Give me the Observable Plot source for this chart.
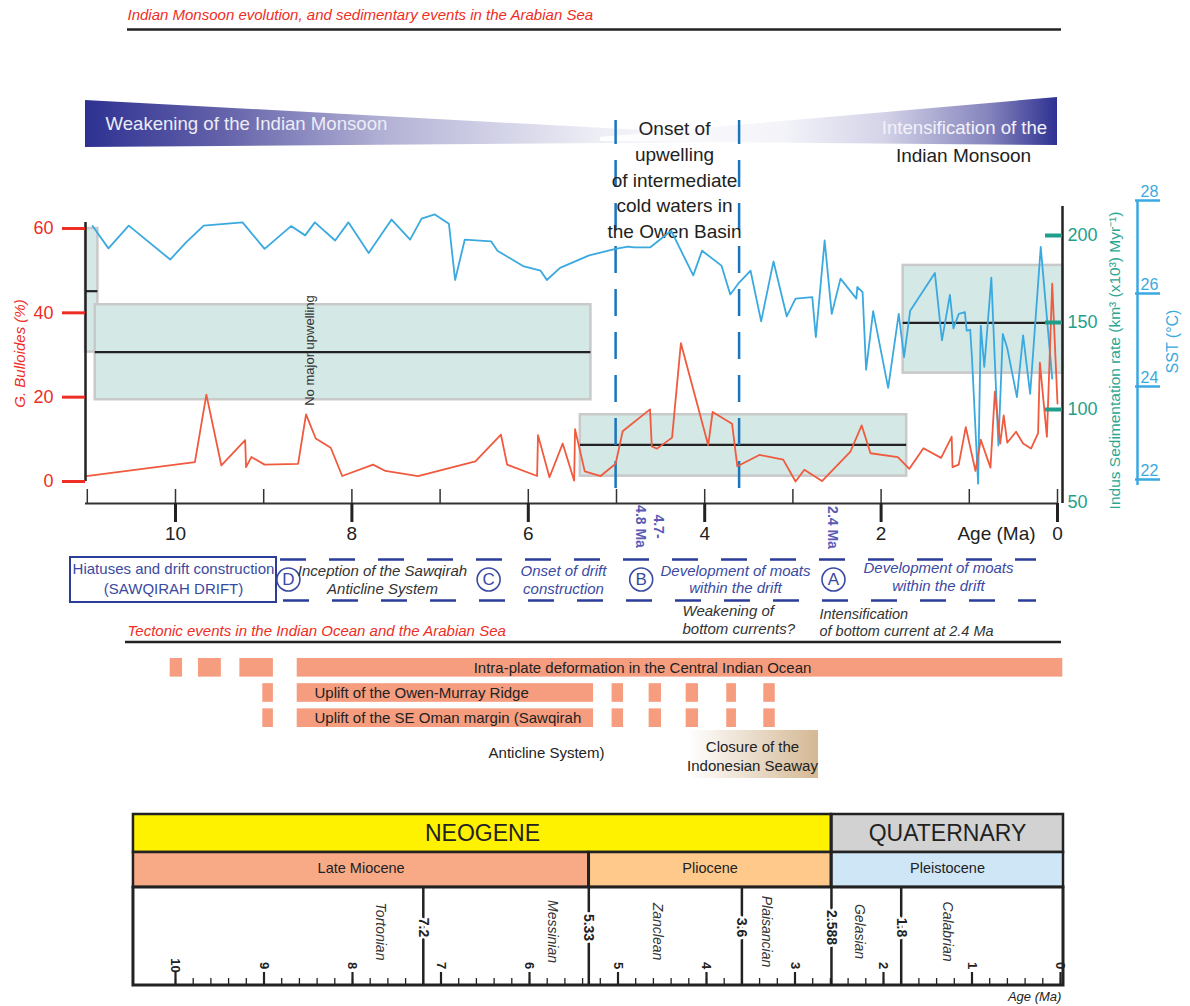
<!DOCTYPE html>
<html>
<head>
<meta charset="utf-8">
<script src="https://cdn.jsdelivr.net/npm/d3@7"></script>
<script src="https://cdn.jsdelivr.net/npm/@observablehq/plot@0.6"></script>
<style>
html,body{margin:0;padding:0;background:#fff;}
#wrap{position:relative;width:1190px;height:1006px;overflow:hidden;background:#fff;}
#wrap svg{position:absolute;left:0;}
</style>
</head>
<body>
<div id="wrap"></div>
<script>
// ---------------- DATA ----------------
const sstAges = [10.94,10.76,10.53,10.06,9.88,9.68,9.24,8.99,8.69,8.53,8.42,8.19,8.04,7.81,7.55,7.34,7.21,7.06,6.90,6.83,6.72,6.42,6.35,6.06,5.86,5.79,5.64,5.31,5.01,4.87,4.80,4.62,4.38,4.13,4.03,3.81,3.71,3.62,3.48,3.36,3.22,3.07,2.97,2.78,2.74,2.64,2.56,2.46,2.28,2.27,2.21,2.17,2.09,1.92,1.80,1.74,1.67,1.39,1.31,1.22,1.18,1.12,1.05,1.03,0.99,0.97,0.90,0.87,0.83,0.75,0.67,0.62,0.57,0.46,0.39,0.31,0.19,0.06];
const sstValues = [27.45,26.97,27.46,26.73,27.10,27.46,27.53,26.96,27.45,27.25,27.53,27.14,27.53,26.87,27.59,27.16,27.61,27.70,27.50,26.29,27.16,27.12,26.92,26.59,26.49,26.29,26.55,26.82,26.96,27.01,26.99,26.99,27.35,26.39,26.92,26.60,25.98,26.21,26.49,25.40,26.69,25.51,25.89,25.92,25.06,27.14,25.56,26.32,25.89,26.14,26.03,24.36,25.62,23.97,25.56,24.63,25.63,26.44,24.99,25.97,25.25,25.56,25.60,25.20,25.22,24.63,21.91,25.31,24.42,26.34,22.73,25.13,24.83,23.77,25.10,23.84,27.00,24.17];

const bulloidesAges = [11.01,9.78,9.65,9.48,9.21,9.20,9.14,8.99,8.61,8.52,8.41,8.24,8.11,7.76,7.62,7.25,6.60,6.31,6.24,5.90,5.89,5.76,5.61,5.48,5.47,5.36,5.18,5.01,4.93,4.62,4.60,4.54,4.37,4.27,3.96,3.91,3.69,3.63,3.38,3.11,2.97,2.87,2.67,2.35,2.22,2.12,1.81,1.68,1.52,1.32,1.20,1.19,1.12,1.04,0.93,0.87,0.76,0.71,0.65,0.61,0.57,0.47,0.39,0.30,0.22,0.20,0.12,0.06,0.00];
const bulloidesValues = [1.3,4.6,20.6,3.8,9.8,3.4,5.8,4.0,4.2,15.9,10.2,8.0,1.3,4.0,2.5,1.3,4.8,11.1,4.0,1.3,11.0,1.0,9.0,0.2,12.4,2.4,1.3,4.2,11.9,17.1,8.3,7.8,10.4,32.8,8.6,16.5,13.7,3.6,6.3,5.2,0.0,2.8,0.1,7.0,13.3,6.7,5.8,3.0,7.9,5.6,10.6,3.4,4.0,12.9,2.5,9.9,3.3,21.3,9.0,15.7,9.2,11.8,9.0,7.8,11.5,28.2,10.6,46.9,18.5];

// Indus sedimentation rate boxes (age span, range, mean)
const sedFrom = [11.02, 10.91, 5.41, 1.75];
const sedTo   = [10.88, 5.29, 1.71, -0.06];
const sedLow  = [133, 105.6, 61.7, 120.9];
const sedHigh = [204, 160.2, 97, 182.8];
const sedMean = [168, 133, 79.7, 149.8];

const upwellingAges = [5.01, 3.61];

const percentTicks = [0, 20, 40, 60];
const sedTicks = [200, 150, 100];
const sedTickLabels = [200, 150, 100, 50];
const sstTicks = [22, 24, 26, 28];
const ageMinorTicks = [11, 10, 9, 8, 7, 6, 5, 4, 3, 2, 1, 0];
const ageMajorTicks = [10, 8, 6, 4, 2, 0];

// sedimentary events
const eventLetters = ["D", "C", "B", "A"];
const eventAges = [8.72, 6.45, 4.72, 2.54];

// tectonic events
const tectRows = ["Intra-plate deformation", "Owen-Murray Ridge uplift", "SE Oman margin uplift"];
const intraFrom = [10.06, 9.74, 9.27, 8.62];
const intraTo   = [9.92, 9.48, 8.89, -0.06];
const upliftFrom = [9.01, 8.62, 5.05, 4.63, 4.21, 3.75, 3.33];
const upliftTo   = [8.89, 5.26, 4.92, 4.49, 4.07, 3.64, 3.20];
const closureFrom = 4.18, closureTo = 2.71;

// geological time scale
const periodNames = ["NEOGENE", "QUATERNARY"];
const periodFrom = [10.475, 2.588];
const periodTo = [2.588, -0.034];
const epochNames = ["Late Miocene", "Pliocene", "Pleistocene"];
const epochFrom = [10.475, 5.33, 2.588];
const epochTo = [5.33, 2.588, -0.034];
const stageNames = ["Tortonian", "Messinian", "Zanclean", "Plaisancian", "Gelasian", "Calabrian"];
const stageLabelAges = [7.68, 5.74, 4.55, 3.32, 2.27, 1.28];
const stageBoundaries = [7.2, 5.33, 3.6, 2.588, 1.8];
const stageBoundaryLabels = ["7.2", "5.33", "3.6", "2.588", "1.8"];
const scaleIntegerTicks = [10, 9, 8, 7, 6, 5, 4, 3, 2, 1, 0];

// ---------------- TABLES ----------------
const sst = sstAges.map((a, i) => ({age: a, sst: sstValues[i]}));
const bull = bulloidesAges.map((a, i) => ({age: a, pct: bulloidesValues[i]}));
const sedBoxes = sedFrom.map((f, i) => ({from: f, to: sedTo[i], low: sedLow[i], high: sedHigh[i], mean: sedMean[i]}));
const tectSegs = [
  ...intraFrom.map((f, i) => ({row: tectRows[0], from: f, to: intraTo[i]})),
  ...upliftFrom.map((f, i) => ({row: tectRows[1], from: f, to: upliftTo[i]})),
  ...upliftFrom.map((f, i) => ({row: tectRows[2], from: f, to: upliftTo[i]}))
];
const periods = periodNames.map((n, i) => ({name: n, from: periodFrom[i], to: periodTo[i]}));
const epochs = epochNames.map((n, i) => ({name: n, from: epochFrom[i], to: epochTo[i]}));
const stages = stageNames.map((n, i) => ({name: n, at: stageLabelAges[i]}));
const boundaries = stageBoundaries.map((b, i) => ({age: b, label: stageBoundaryLabels[i]}));

// ---------------- LAYOUT HELPERS ----------------
const F = '"Liberation Sans", Arial, Helvetica, sans-serif';
const xs = d3.scaleLinear([10, 0], [175, 1057]);
const ys = d3.scaleLinear([0, 60], [481, 228]);
const X = p => xs.invert(p), Y = p => ys.invert(p);
const sst2pct = d3.scaleLinear([22, 28], [Y(479), Y(200)]);
const sed2pct = d3.scaleLinear([50, 200], [Y(496), Y(235)]);

const RED = "#ee2d24", BLUE = "#3aa9e0", TEAL = "#1f9f8b", NAVY = "#2e3192", EVT = "#3a4aa2";

function label(text, px, py, o = {}) {
  return Plot.text([text], {x: () => X(px), y: () => Y(py), text: d => d, fontSize: 15, fill: "#222", ...o});
}
function hline(py, px1, px2, o = {}) {
  return Plot.ruleY([0], {y: () => Y(py), x1: () => X(px1), x2: () => X(px2), ...o});
}
function vline(px, py1, py2, o = {}) {
  return Plot.ruleX([0], {x: () => X(px), y1: () => Y(py1), y2: () => Y(py2), ...o});
}

const wedgeLeft = [{age: X(85), lo: Y(147), hi: Y(100)}, {age: X(790), lo: Y(141.5), hi: Y(138)}];
const wedgeRight = [{age: X(600), lo: Y(141), hi: Y(137)}, {age: X(1057), lo: Y(145), hi: Y(97)}];

// ---------------- MAIN CHART ----------------
const main = Plot.plot({
  width: 1190, height: 645, margin: 0,
  style: {fontFamily: F, background: "transparent", overflow: "visible"},
  x: {domain: [10, 0], range: [175, 1057], axis: null},
  y: {domain: [0, 60], range: [481, 228], axis: null},
  marks: [
    // title
    label("Indian Monsoon evolution, and sedimentary events in the Arabian Sea", 127, 15, {textAnchor: "start", fill: RED, fontStyle: "italic", fontSize: 15}),
    hline(29, 127, 1061, {stroke: "#222", strokeWidth: 2.5}),
    // monsoon wedges
    Plot.area(wedgeLeft, {x1: "age", y1: "lo", y2: "hi", fill: "url(#gradL)"}),
    Plot.area(wedgeRight, {x1: "age", y1: "lo", y2: "hi", fill: "url(#gradR)"}),
    label("Weakening of the Indian Monsoon", 105, 124, {textAnchor: "start", fill: "#ececf6", fontSize: 18.6}),
    label("Intensification of the", 964, 128, {fill: "#f2f2f8", fontSize: 18.6}),
    label("Indian Monsoon", 963, 155, {fill: "#222", fontSize: 19}),
    // sedimentation rate boxes
    Plot.rect(sedBoxes, {x1: "from", x2: "to", y1: d => sed2pct(d.low), y2: d => sed2pct(d.high), fill: "#d4e8e6", stroke: "#c9c9c9", strokeWidth: 2.5}),
    Plot.ruleY(sedBoxes, {y: d => sed2pct(d.mean), x1: "from", x2: "to", stroke: "#222", strokeWidth: 2.2}),
    // upwelling dashed lines
    Plot.ruleX(upwellingAges, {x: d => d, y1: () => Y(488), y2: () => Y(120), stroke: "#1b75bc", strokeWidth: 2.5, strokeDasharray: "27,16"}),
    label("Onset of\nupwelling\nof intermediate\ncold waters in\nthe Owen Basin", 674, 178, {fontSize: 19, lineHeight: 1.35, fill: "#222"}),
    label("No major upwelling", 309, 350, {rotate: -90, fontSize: 13, fill: "#333"}),
    // data lines
    Plot.line(sst, {x: "age", y: d => sst2pct(d.sst), stroke: BLUE, strokeWidth: 1.8}),
    Plot.line(bull, {x: "age", y: "pct", stroke: "#f05a3e", strokeWidth: 1.8}),
    // left axis
    vline(85, 481, 222, {stroke: "#222", strokeWidth: 2.5}),
    Plot.ruleY(percentTicks, {y: d => d, x1: () => X(62), x2: () => X(85), stroke: RED, strokeWidth: 3}),
    Plot.text(percentTicks, {x: () => X(53), y: d => d, text: d => String(d), textAnchor: "end", fill: RED, fontSize: 18}),
    label("G. Bulloides (%)", 20, 353, {rotate: -90, fill: RED, fontStyle: "italic", fontSize: 15}),
    // age axis
    hline(503, 85, 1058, {stroke: "#333", strokeWidth: 2}),
    Plot.ruleX(ageMinorTicks, {x: d => d, y1: () => Y(503), y2: () => Y(489), stroke: "#333", strokeWidth: 1.5}),
    Plot.ruleX(ageMajorTicks, {x: d => d, y1: () => Y(503), y2: () => Y(522), stroke: "#222", strokeWidth: 3}),
    Plot.text(ageMajorTicks, {x: d => d, y: () => Y(533), text: d => String(d), fontSize: 19, fill: "#222"}),
    label("Age (Ma)", 996, 533, {fontSize: 19, fill: "#222"}),
    label("4.7-\n4.8 Ma", 650, 526, {rotate: 90, fontSize: 14, fontWeight: "bold", fill: "#5a5ab4", lineHeight: 1.3}),
    label("2.4 Ma", 832, 527, {rotate: 90, fontSize: 14, fontWeight: "bold", fill: "#5a5ab4"}),
    // Indus sedimentation axis
    vline(1062, 503, 206, {stroke: "#222", strokeWidth: 2.5}),
    Plot.ruleY(sedTicks, {y: d => sed2pct(d), x1: () => X(1045), x2: () => X(1062), stroke: TEAL, strokeWidth: 4}),
    Plot.text(sedTickLabels, {x: () => X(1067), y: d => sed2pct(d) - (d === 50 ? 1.4 : 0), text: d => String(d), textAnchor: "start", fill: TEAL, fontSize: 18}),
    label("Indus Sedimentation rate (km³ (x10³) Myr⁻¹)", 1115, 360, {rotate: -90, fill: "#2aa693", fontSize: 15.5}),
    // SST axis
    vline(1137, 485, 200, {stroke: BLUE, strokeWidth: 2.5}),
    Plot.ruleY(sstTicks, {y: d => sst2pct(d), x1: () => X(1135), x2: () => X(1160), stroke: BLUE, strokeWidth: 2.5}),
    Plot.text(sstTicks, {x: () => X(1149), y: d => sst2pct(d), dy: -9, text: d => String(d), fill: BLUE, fontSize: 16}),
    label("SST (°C)", 1172, 341, {rotate: -90, fill: BLUE, fontSize: 16}),
    // sedimentary events row
    Plot.rect([0], {x1: () => X(70), x2: () => X(276), y1: () => Y(557), y2: () => Y(602), fill: "none", stroke: "#2b3d99", strokeWidth: 2}),
    label("Hiatuses and drift construction\n(SAWQIRAH DRIFT)", 173, 577, {fill: EVT, fontSize: 15, lineHeight: 1.33}),
    hline(559, 280, 1036, {stroke: "#2b3d99", strokeWidth: 2.5, strokeDasharray: "26,23"}),
    hline(600, 283, 1036, {stroke: "#2b3d99", strokeWidth: 2.5, strokeDasharray: "26,23"}),
    Plot.dot(eventAges, {x: d => d, y: () => Y(579), r: 11.5, stroke: EVT, strokeWidth: 1.6, fill: "white"}),
    Plot.text(eventAges, {x: d => d, y: () => Y(579), text: (d, i) => eventLetters[i], fill: EVT, fontSize: 17}),
    label("Inception of the Sawqirah\nAnticline System", 382, 579, {fontStyle: "italic", fill: "#333", lineHeight: 1.2}),
    label("Onset of drift\nconstruction", 563, 579, {fontStyle: "italic", fill: EVT, lineHeight: 1.2}),
    label("Development of moats\nwithin the drift", 735, 578.5, {fontStyle: "italic", fill: EVT, lineHeight: 1.15}),
    label("Development of moats\nwithin the drift", 938, 576, {fontStyle: "italic", fill: EVT, lineHeight: 1.2}),
    label("Weakening of\nbottom currents?", 682, 618.5, {textAnchor: "start", fontStyle: "italic", fill: "#333", lineHeight: 1.25}),
    label("Intensification\nof bottom current at 2.4 Ma", 819, 621.5, {textAnchor: "start", fontStyle: "italic", fill: "#333", lineHeight: 1.15, fontSize: 14.5}),
    // tectonic section title
    label("Tectonic events in the Indian Ocean and the Arabian Sea", 127, 631, {textAnchor: "start", fill: RED, fontStyle: "italic", fontSize: 15}),
    hline(641.5, 125, 1061, {stroke: "#222", strokeWidth: 2.5})
  ]
});
main.style.top = "0px";

// ---------------- TECTONIC EVENTS ----------------
const tect = Plot.plot({
  width: 1190, height: 145, margin: 0,
  style: {fontFamily: F, background: "transparent", overflow: "visible"},
  x: {domain: [10, 0], range: [175, 1057], axis: null},
  y: {type: "band", domain: tectRows, range: [13, 82], paddingInner: 0.26, paddingOuter: 0, round: false, axis: null},
  marks: [
    Plot.barX(tectSegs, {x1: "from", x2: "to", y: "row", fill: "#f69d7f"}),
    Plot.barX([0], {x1: () => closureFrom, x2: () => closureTo, y: () => tectRows[2], insetTop: 21.6, insetBottom: -51, fill: "url(#gradT)"}),
    Plot.text([tectRows[0]], {x: () => X(642), y: d => d, text: () => "Intra-plate deformation in the Central Indian Ocean", fontSize: 15, fill: "#222"}),
    Plot.text([tectRows[1]], {x: () => X(314), y: d => d, text: () => "Uplift of the Owen-Murray Ridge", textAnchor: "start", fontSize: 15, fill: "#222"}),
    Plot.text([tectRows[2]], {x: () => X(314), y: d => d, text: () => "Uplift of the SE Oman margin (Sawqirah", textAnchor: "start", fontSize: 15, fill: "#222"}),
    Plot.text([tectRows[2]], {x: () => X(546), y: d => d, dy: 35, text: () => "Anticline System)", fontSize: 15, fill: "#222"}),
    Plot.text([tectRows[2]], {x: () => X(752), y: d => d, dy: 37, text: () => "Closure of the\nIndonesian Seaway", fontSize: 15, lineHeight: 1.3, fill: "#222"})
  ]
});
tect.style.top = "645px";

// ---------------- TIME SCALE ----------------
const PER = [814, 852], EPO = [852, 887], STG = [887, 985];
const periodColors = {"NEOGENE": "#fff200", "QUATERNARY": "#d2d2d2"};
const epochColors = {"Late Miocene": "#f8a986", "Pliocene": "#fec98b", "Pleistocene": "#cfe6f6"};
const minorTicks = d3.range(0, 51).map(i => i / 5);
const ts = Plot.plot({
  width: 1190, height: 216, margin: 0,
  style: {fontFamily: F, background: "transparent", overflow: "visible"},
  x: {domain: [10, 0], range: [175, 1060], axis: null},
  y: {domain: [790, 1006], range: [0, 216], axis: null},
  marks: [
    Plot.rect(periods, {x1: "from", x2: "to", y1: () => PER[0], y2: () => PER[1], fill: d => periodColors[d.name], stroke: "#222", strokeWidth: 2.5}),
    Plot.rect(epochs, {x1: "from", x2: "to", y1: () => EPO[0], y2: () => EPO[1], fill: d => epochColors[d.name], stroke: "#222", strokeWidth: 2.5}),
    Plot.rect([0], {x1: () => 10.475, x2: () => -0.034, y1: () => STG[0], y2: () => STG[1], fill: "white", stroke: "#222", strokeWidth: 3}),
    Plot.ruleX(boundaries, {x: "age", y1: d => d.age === 2.588 ? PER[0] : d.age === 5.33 ? EPO[0] : STG[0], y2: () => STG[1], stroke: "#222", strokeWidth: 2.5}),
    Plot.ruleX(minorTicks, {x: d => d, y1: () => 978, y2: () => STG[1], stroke: "#222", strokeWidth: 1.3}),
    Plot.ruleX(scaleIntegerTicks, {x: d => d, y1: () => 972, y2: () => STG[1], stroke: "#222", strokeWidth: 2.2}),
    Plot.text(scaleIntegerTicks, {x: d => d, y: () => 965, text: d => String(d), rotate: 90, fontSize: 13, fontWeight: "bold", fill: "#222"}),
    Plot.text(boundaries, {x: "age", y: () => 927, text: "label", rotate: 90, fontSize: 14, fontWeight: "bold", fill: "#222", stroke: "white", strokeWidth: 5, paintOrder: "stroke"}),
    Plot.text(stages, {x: "at", y: () => 931, text: "name", rotate: 90, fontSize: 14, fontStyle: "italic", fill: "#333"}),
    Plot.text(periods, {x: d => (d.from + d.to) / 2, y: () => 833, text: "name", fontSize: 23, fill: "#222"}),
    Plot.text(epochs, {x: d => (d.from + d.to) / 2, y: () => 868, text: "name", fontSize: 14.5, fill: "#222"}),
    Plot.text(["Age (Ma)"], {x: () => -0.01, y: () => 996, text: d => d, textAnchor: "end", fontSize: 13, fontStyle: "italic", fill: "#222"})
  ]
});
ts.style.top = "790px";

// ---------------- GRADIENTS ----------------
function addGradient(svg, id, stops) {
  let defs = d3.select(svg).select("defs");
  if (defs.empty()) defs = d3.select(svg).insert("defs", ":first-child");
  const g = defs.append("linearGradient").attr("id", id).attr("x1", 0).attr("x2", 1).attr("y1", 0).attr("y2", 0);
  stops.forEach(([o, c]) => g.append("stop").attr("offset", o).attr("stop-color", c));
}
addGradient(main, "gradL", [[0, NAVY], [0.2, "#6563aa"], [0.43, "#b4b3d6"], [0.73, "#eeeef6"], [1, "#ffffff"]]);
addGradient(main, "gradR", [[0, "#ffffff"], [0.4, "#f3f3f9"], [0.62, "#d4d3e8"], [0.85, "#8584bd"], [1, NAVY]]);
addGradient(tect, "gradT", [[0, "#ffffff"], [1, "#d4b894"]]);

const wrap = document.getElementById("wrap");
wrap.append(main, tect, ts);
</script>
</body>
</html>
